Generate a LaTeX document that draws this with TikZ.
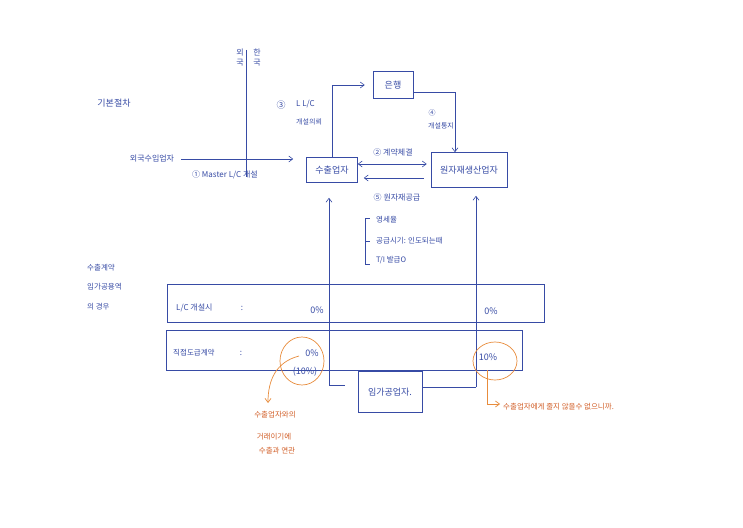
\documentclass[tikz,border=0pt]{standalone}
\usepackage{fontspec}
\setmainfont{Noto Sans CJK KR}
\usetikzlibrary{arrows.meta,shapes.geometric}
\definecolor{ink}{RGB}{55,75,165}
\definecolor{org}{RGB}{232,140,60}
\definecolor{orgtxt}{RGB}{210,95,40}
\begin{document}
\begin{tikzpicture}[x=1pt,y=-1pt,
  box/.style={draw=ink, line width=0.6pt, inner sep=0pt, text=ink, font=\fontsize{9}{10}\selectfont},
  rowbox/.style={draw=ink, line width=0.6pt, inner sep=0pt},
  lbl/.style={text=ink, inner sep=0pt, font=\fontsize{8}{9}\selectfont},
  mlbl/.style={text=ink, inner sep=0pt, font=\fontsize{7.5}{8.5}\selectfont},
  slbl/.style={text=ink, inner sep=0pt, font=\fontsize{7}{8}\selectfont},
  otxt/.style={text=orgtxt, inner sep=0pt, font=\fontsize{7.5}{8.5}\selectfont},
  conn/.style={draw=ink, line width=0.6pt},
  arr/.style={conn, -{Straight Barb[length=4pt,width=6pt]}},
  darr/.style={conn, {Straight Barb[length=4pt,width=6pt]}-{Straight Barb[length=4pt,width=6pt]}},
  oline/.style={draw=org, line width=0.7pt},
  oarr/.style={oline, -{Straight Barb[length=4pt,width=6pt]}}]
\useasboundingbox (0,0) rectangle (743,527);
\fill[white] (0,0) rectangle (743,527);

% title texts
\node[lbl, font=\fontsize{9}{10}\selectfont] (title) at (114,103) {기본절차};
\node[lbl, align=center] (fc) at (240,58) {외\\[1pt]국};
\node[lbl, align=center] (kc) at (257,58) {한\\[1pt]국};
\coordinate (bt) at (246,50);
\coordinate (bb) at (246,177);
\draw[conn] (bt) -- (bb);

% boxes
\node[box, minimum width=51pt, minimum height=25pt] (exp) at (332,170) {수출업자};
\node[box, minimum width=40pt, minimum height=27pt] (bank) at (393,85) {은행};
\node[box, minimum width=76pt, minimum height=35pt] (orig) at (469,170) {원자재생산업자};
\node[box, minimum width=64pt, minimum height=41pt] (proc) at (390,392) {임가공업자.};

% importer arrow
\node[lbl] (imp) at (152,159) {외국수입업자};
\draw[arr, shorten <=7pt, shorten >=13pt] (imp.east) -- (imp.east -| exp.west);
\node[lbl, anchor=west] (m1) at (192,175) {① Master L/C 개설};

% exporter -> bank
\draw[arr, shorten >=8pt] (exp.north) |- (bank.west);
\node[lbl, font=\fontsize{9}{10}\selectfont] (n3) at (281,105) {③};
\node[lbl, anchor=west] (n3a) at (296,104) {L L/C};
\node[slbl, anchor=west] (n3b) at (296,122) {개설의뢰};

% bank -> orig
\draw[arr] ([yshift=-7pt]bank.east) -| ([xshift=-14pt]orig.north);
\node[slbl] (n4) at (432,113) {④};
\node[slbl] (n4b) at (441,126) {개설통지};

% contract
\draw[darr, shorten >=4pt] ([yshift=6pt]exp.east) -- ([yshift=6pt]orig.west);
\node[lbl] (n2) at (393,152) {② 계약체결};
\draw[arr, shorten <=7pt, shorten >=6pt] ([yshift=-8pt]orig.west) -- ([yshift=-8pt]orig.west -| exp.east);
\node[lbl] (n5) at (397,197) {⑤ 원자재공급};

% bracket list
\coordinate (br1) at (365,218);
\coordinate (br2) at (365,241);
\coordinate (br3) at (365,264);
\draw[conn] (br1) -- (br3);
\draw[conn] (br1) -- ++(5,0);
\draw[conn] (br2) -- ++(5,0);
\draw[conn] (br3) -- ++(5,0);
\node[mlbl, anchor=west] (l1) at (376,220) {영세율};
\node[mlbl, anchor=west] (l2) at (376,241) {공급시기: 인도되는때};
\node[mlbl, anchor=west] (l3) at (376,260) {T/I 발급O};

% left note
\node[mlbl, anchor=west] (s1) at (87,268) {수출계약};
\node[mlbl, anchor=west] (s2) at (87,287) {임가공용역};
\node[mlbl, anchor=west] (s3) at (87,307) {의 경우};

% table rows
\node[rowbox, minimum width=377pt, minimum height=38pt] (row1) at (355.5,303) {};
\node[rowbox, minimum width=356pt, minimum height=40pt] (row2) at (344,350) {};
\node[lbl, anchor=west] (r1a) at (176,308) {L/C 개설시};
\node[lbl] (r1b) at (242,308) {:};
\node[lbl, font=\fontsize{9}{10}\selectfont] (r1c) at (317,310) {0\%};
\node[lbl, font=\fontsize{9}{10}\selectfont] (r1d) at (491,311) {0\%};
\node[mlbl, anchor=west] (r2a) at (173,353) {직접도급계약};
\node[lbl] (r2b) at (241,353) {:};
\node[lbl, font=\fontsize{9}{10}\selectfont] (r2c) at (312,353) {0\%};
\node[lbl, font=\fontsize{9}{10}\selectfont] (r2d) at (305,372) {(10\%)};
\node[lbl, font=\fontsize{9}{10}\selectfont] (r2e) at (488,357) {10\%};

% verticals to bottom
\coordinate (lb) at (329,385);
\coordinate (lbe) at (345,385);
\draw[arr, shorten >=15pt] (lb) -- (lb |- exp.south);
\draw[conn] (lb) -- (lbe);
\coordinate (rb) at (476,387);
\draw[arr, shorten >=8pt] (rb) -- (rb |- orig.south);
\draw[conn] (rb) -- (rb -| proc.east);

% orange annotations
\node[oline, ellipse, minimum width=44pt, minimum height=48pt, inner sep=0pt] (o1) at (302,361) {};
\node[oline, ellipse, minimum width=44pt, minimum height=38pt, inner sep=0pt] (o2) at (495,361) {};
\coordinate (a1s) at (299,356);
\coordinate (a1e) at (268,403);
\draw[oarr] (a1s) .. controls (276,362) and (268,380) .. (a1e);
\node[otxt] (t1) at (275,415) {수출업자와의};
\node[otxt] (t2) at (274,437) {거래이기에};
\node[otxt] (t3) at (277,451) {수출과 연관};
\coordinate (a2s) at (487,370);
\coordinate (a2e) at (500,404);
\draw[oarr] (a2s) |- (a2e);
\node[otxt, anchor=west] (t4) at (503,407) {수출업자에게 줄지 않을수 없으니까.};
\end{tikzpicture}
\end{document}
